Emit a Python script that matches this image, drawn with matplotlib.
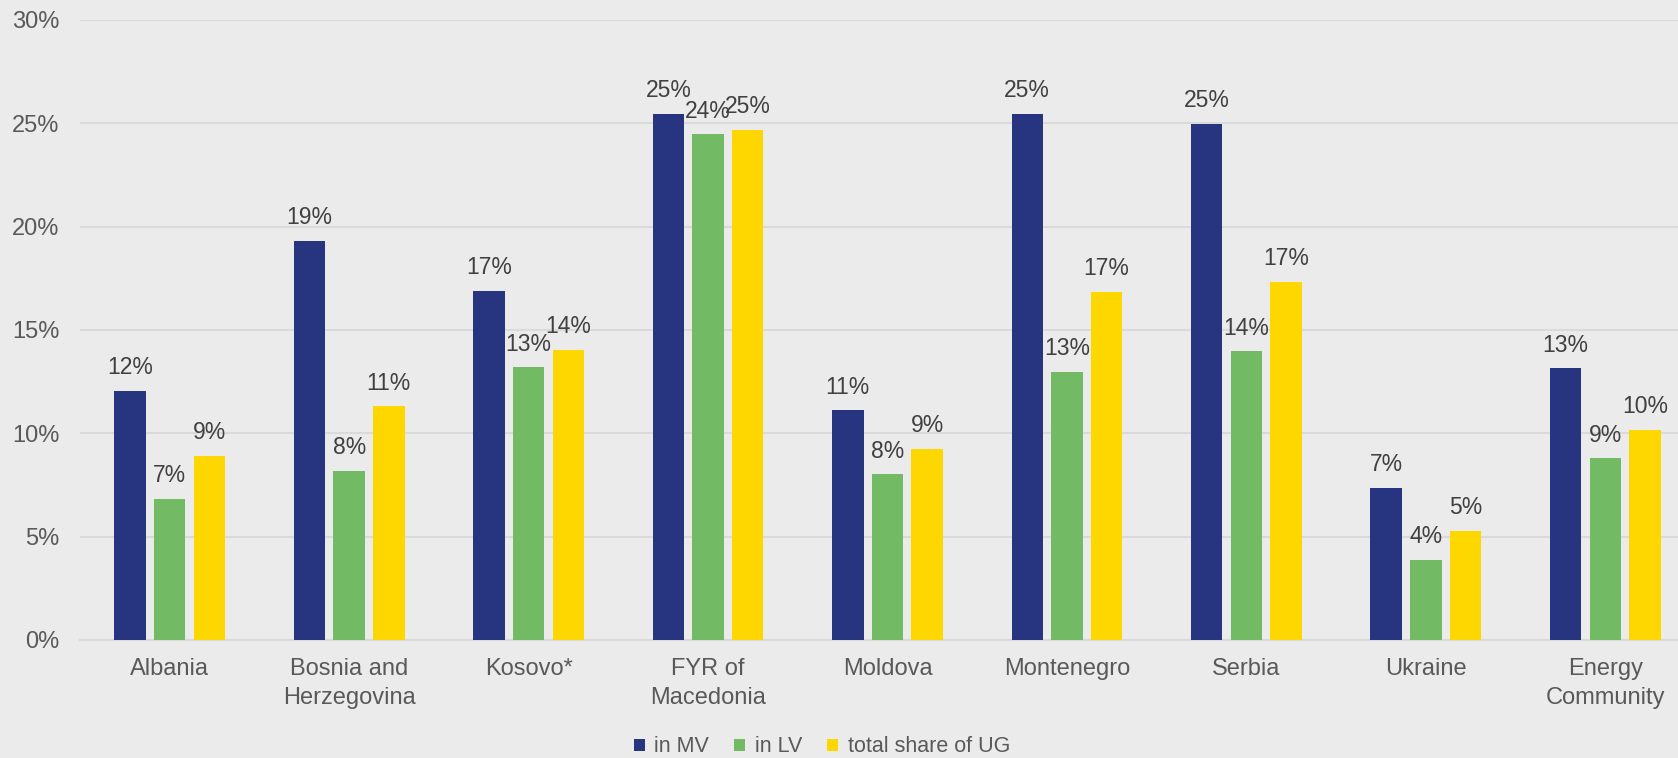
import matplotlib
matplotlib.use("Agg")
import matplotlib.pyplot as plt
import numpy as np

plt.rcParams['font.family'] = ['Liberation Sans', 'DejaVu Sans']

categories = ["Albania", "Bosnia and\nHerzegovina", "Kosovo*", "FYR of\nMacedonia",
              "Moldova", "Montenegro", "Serbia", "Ukraine", "Energy\nCommunity"]
in_mv = [12.05, 19.3, 16.9, 25.45, 11.12, 25.45, 24.99, 7.35, 13.15]
in_lv = [6.83, 8.2, 13.2, 24.47, 8.02, 12.98, 13.97, 3.88, 8.79]
total_ug = [8.9, 11.3, 14.05, 24.68, 9.26, 16.86, 17.33, 5.28, 10.18]
series_names = ["in MV", "in LV", "total share of UG"]
colors = ["#27347F", "#72BA63", "#FFD700"]
yticks = [0, 5, 10, 15, 20, 25, 30]

bg = "#EBEBEB"
fig = plt.figure(figsize=(16.78, 7.58), dpi=100, facecolor=bg)
ax = fig.add_axes([80 / 1678, 1 - 640 / 758, 1615 / 1678, 620 / 758], facecolor=bg)

x = np.arange(len(categories))
offset = 0.221
width = 0.175
handles = []
for i, (vals, name, col) in enumerate(zip([in_mv, in_lv, total_ug], series_names, colors)):
    pos = x + (i - 1) * offset
    bars = ax.bar(pos, vals, width=width, color=col, label=name, zorder=3)
    handles.append(bars)
    for xp, v in zip(pos, vals):
        ax.annotate(f"{round(v):d}%", (xp, v), xytext=(0, 12), textcoords="offset points",
                    ha="center", va="baseline", fontsize=16.5, color="#404040", zorder=4)

ax.set_xlim(-0.5, len(categories) - 0.5)
ax.set_ylim(0, 30)
ax.set_yticks(yticks)
ax.set_yticklabels([f"{t}%" for t in yticks])
ax.set_xticks(x)
ax.set_xticklabels(categories, linespacing=1.4)
ax.tick_params(axis="y", length=0, pad=15, labelsize=17, labelcolor="#595959")
ax.tick_params(axis="x", length=0, pad=13, labelsize=17, labelcolor="#595959")
ax.yaxis.grid(True, color="#DADADA", linewidth=1.5, zorder=0)
ax.set_axisbelow(True)
for s in ["top", "right", "left"]:
    ax.spines[s].set_visible(False)
ax.spines["bottom"].set_color("#D9D9D9")
ax.spines["bottom"].set_linewidth(1.5)

leg = fig.legend(handles=handles, labels=series_names, loc="center",
                 bbox_to_anchor=(822 / 1678, 1 - 747 / 758), ncol=3, frameon=False,
                 fontsize=15.5, handlelength=0.52, handleheight=0.52, handletextpad=0.45,
                 columnspacing=1.15, borderpad=0, borderaxespad=0)
for t in leg.get_texts():
    t.set_color("#595959")

fig.savefig("out.png", dpi=100, facecolor=bg)
